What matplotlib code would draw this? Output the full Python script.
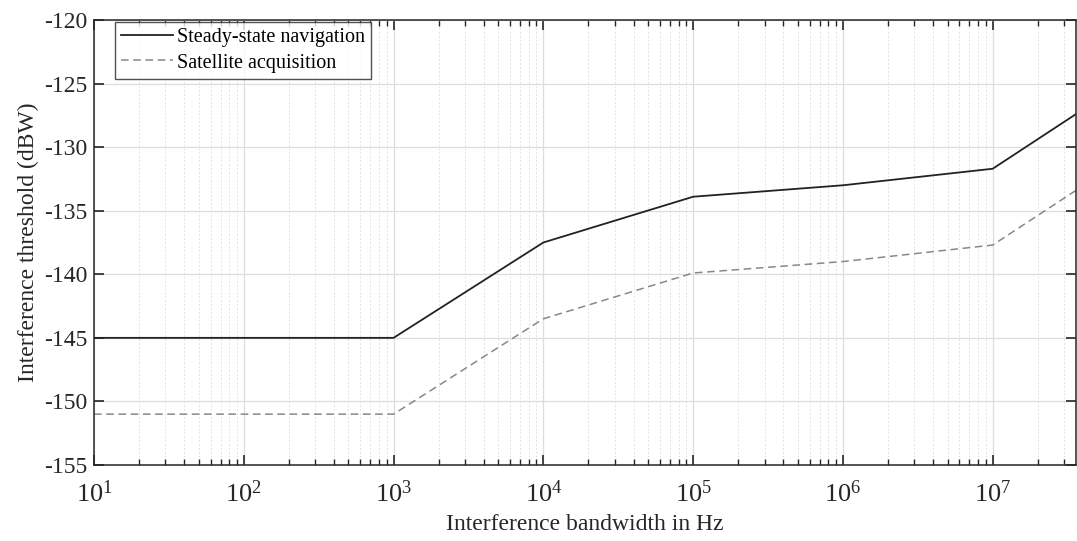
import matplotlib
matplotlib.use("Agg")
import matplotlib.pyplot as plt
from matplotlib.ticker import LogLocator, NullFormatter, FixedLocator, LogFormatterMathtext

bandwidth_hz = [10, 1e3, 1e4, 1e5, 1e6, 1e7, 3.6e7]
steady_state = [-145, -145, -137.5, -133.9, -133.0, -131.7, -127.4]
acquisition = [-151, -151, -143.5, -139.9, -139.0, -137.7, -133.4]
x_ticks = [1e1, 1e2, 1e3, 1e4, 1e5, 1e6, 1e7]
y_ticks = [-155, -150, -145, -140, -135, -130, -125, -120]

plt.rcParams['font.family'] = ['Liberation Serif', 'DejaVu Serif']
plt.rcParams['mathtext.fontset'] = 'custom'
plt.rcParams['mathtext.rm'] = 'Liberation Serif'
plt.rcParams['mathtext.it'] = 'Liberation Serif:italic'
plt.rcParams['axes.unicode_minus'] = False

fig = plt.figure(figsize=(10.77, 5.41), dpi=100)
ax = fig.add_axes([94/1077, 1-465/541, (1076-94)/1077, (465-20)/541])

ax.plot(bandwidth_hz, steady_state, color='#222222', lw=1.3, label='Steady-state navigation')
ax.plot(bandwidth_hz, acquisition, color='#888888', lw=1.1, ls=(0, (5, 3)), label='Satellite acquisition')

ax.set_xscale('log')
ax.set_xlim(10, 3.6e7)
ax.set_ylim(-155, -120)
ax.yaxis.set_major_locator(FixedLocator(y_ticks))
ax.xaxis.set_major_locator(FixedLocator(x_ticks))
ax.xaxis.set_major_formatter(LogFormatterMathtext())
ax.xaxis.set_minor_locator(LogLocator(base=10, subs=range(2, 10), numticks=100))
ax.xaxis.set_minor_formatter(NullFormatter())

ax.grid(True, which='major', color='#dddddd', lw=0.9, ls='-')
ax.grid(True, which='minor', axis='x', color='#e3e3e3', lw=0.7, ls=(0, (2, 2)))
ax.set_axisbelow(True)

ax.tick_params(which='both', direction='in', top=True, right=True, colors='#262626')
ax.tick_params(axis='y', labelsize=17, pad=5)
ax.tick_params(axis='x', labelsize=19, pad=11)
ax.tick_params(which='major', length=7, width=1.2)
ax.tick_params(which='minor', length=4, width=1.0)
for s in ax.spines.values():
    s.set_color('#262626')
    s.set_linewidth(1.1)

ax.set_xlabel('Interference bandwidth in Hz', fontsize=17, color='#262626', labelpad=5)
ax.set_ylabel('Interference threshold (dBW)', fontsize=17, color='#262626', labelpad=3)

leg = ax.legend(loc='upper left', bbox_to_anchor=(0.021, 0.995), fontsize=14.5, frameon=True,
                fancybox=False, edgecolor='#262626', borderpad=0.3, handlelength=2.6,
                handletextpad=0.2, labelspacing=0.3, borderaxespad=0.0)
leg.get_frame().set_linewidth(1.0)

fig.savefig('out.png', dpi=100)
